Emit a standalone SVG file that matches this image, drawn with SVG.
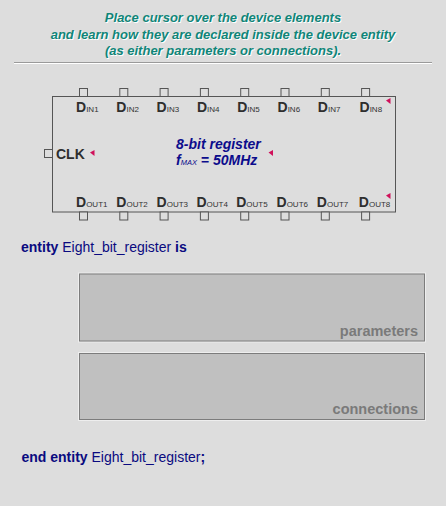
<svg xmlns="http://www.w3.org/2000/svg" width="446" height="506" viewBox="0 0 446 506">
<defs>
<style>
.title{font-family:"Liberation Sans",Arial,sans-serif;font-size:13px;font-weight:bold;font-style:italic;text-anchor:middle}
.tsh{fill:#ffffff}
.tfg{fill:#108578}
.pin{fill:#dddddd;stroke:#555555;stroke-width:1}
.lbl{font-family:"Liberation Sans",Arial,sans-serif;font-weight:bold;fill:#2e2e2e}
.big{font-size:14px}
.sub{font-size:8px;font-weight:normal;fill:#333333}
.chipname{font-family:"Liberation Sans",Arial,sans-serif;font-weight:bold;font-style:italic;fill:#0c0c8c;font-size:14px}
.code{font-family:"Liberation Sans",Arial,sans-serif;font-size:14px;fill:#0a0a80}
.kw{font-weight:bold}
.box{fill:#c0c0c0;stroke:#7c7c7c;stroke-width:1}
.boxedge{fill:none;stroke:#eeeeee;stroke-width:1}
.boxlbl{font-family:"Liberation Sans",Arial,sans-serif;font-size:14.5px;font-weight:bold;fill:#7a7a7a;text-anchor:end}
.mark{fill:#d0105a}
</style>
<polygon id="mk" class="mark" points="0,2.5 4.5,0 4.5,6"/>
</defs>
<rect x="0" y="0" width="446" height="506" fill="#dddddd"/>

<g id="header">
<text class="title tsh" x="224" y="23">Place cursor over the device elements</text>
<text class="title tsh" x="224" y="40">and learn how they are declared inside the device entity</text>
<text class="title tsh" x="224" y="56">(as either parameters or connections).</text>
<text class="title tfg" x="223" y="22">Place cursor over the device elements</text>
<text class="title tfg" x="223" y="39">and learn how they are declared inside the device entity</text>
<text class="title tfg" x="223" y="55">(as either parameters or connections).</text>
<line x1="14" y1="62.5" x2="432" y2="62.5" stroke="#9a9a9a" stroke-width="1"/>
<line x1="14" y1="63.5" x2="432" y2="63.5" stroke="#ffffff" stroke-width="1"/>
</g>

<g id="chip">
<rect x="52.5" y="96.5" width="343" height="115.5" fill="#dddddd" stroke="#555555" stroke-width="1"/>
<text class="chipname" x="176" y="149">8-bit register</text>
<text class="chipname" x="176" y="165">f<tspan font-size="7.5px" font-weight="normal">MAX</tspan> = 50MHz</text>
<use href="#mk" x="268.5" y="150"/>
</g>

<g id="pins">
<rect class="pin" x="44.5" y="149.5" width="8" height="8"/>
<rect class="pin" x="79.5" y="88.5" width="8" height="8"/>
<rect class="pin" x="119.8" y="88.5" width="8" height="8"/>
<rect class="pin" x="160.1" y="88.5" width="8" height="8"/>
<rect class="pin" x="200.4" y="88.5" width="8" height="8"/>
<rect class="pin" x="240.7" y="88.5" width="8" height="8"/>
<rect class="pin" x="281" y="88.5" width="8" height="8"/>
<rect class="pin" x="321.3" y="88.5" width="8" height="8"/>
<rect class="pin" x="361.6" y="88.5" width="8" height="8"/>
<rect class="pin" x="79.5" y="212" width="8" height="8"/>
<rect class="pin" x="119.8" y="212" width="8" height="8"/>
<rect class="pin" x="160.1" y="212" width="8" height="8"/>
<rect class="pin" x="200.4" y="212" width="8" height="8"/>
<rect class="pin" x="240.7" y="212" width="8" height="8"/>
<rect class="pin" x="281" y="212" width="8" height="8"/>
<rect class="pin" x="321.3" y="212" width="8" height="8"/>
<rect class="pin" x="361.6" y="212" width="8" height="8"/>
</g>

<g id="clk">
<text class="lbl big" x="56" y="159">CLK</text>
<use href="#mk" x="90" y="150"/>
</g>

<g id="din">
<text class="lbl" x="76" y="112"><tspan class="big">D</tspan><tspan class="sub">IN1</tspan></text>
<text class="lbl" x="116.3" y="112"><tspan class="big">D</tspan><tspan class="sub">IN2</tspan></text>
<text class="lbl" x="156.6" y="112"><tspan class="big">D</tspan><tspan class="sub">IN3</tspan></text>
<text class="lbl" x="196.9" y="112"><tspan class="big">D</tspan><tspan class="sub">IN4</tspan></text>
<text class="lbl" x="237.2" y="112"><tspan class="big">D</tspan><tspan class="sub">IN5</tspan></text>
<text class="lbl" x="277.5" y="112"><tspan class="big">D</tspan><tspan class="sub">IN6</tspan></text>
<text class="lbl" x="317.8" y="112"><tspan class="big">D</tspan><tspan class="sub">IN7</tspan></text>
<text class="lbl" x="359.5" y="112"><tspan class="big">D</tspan><tspan class="sub">IN8</tspan></text>
<use href="#mk" x="386" y="98"/>
</g>

<g id="dout">
<text class="lbl" x="76" y="207"><tspan class="big">D</tspan><tspan class="sub">OUT1</tspan></text>
<text class="lbl" x="116.3" y="207"><tspan class="big">D</tspan><tspan class="sub">OUT2</tspan></text>
<text class="lbl" x="156.6" y="207"><tspan class="big">D</tspan><tspan class="sub">OUT3</tspan></text>
<text class="lbl" x="196.4" y="207"><tspan class="big">D</tspan><tspan class="sub">OUT4</tspan></text>
<text class="lbl" x="236.2" y="207"><tspan class="big">D</tspan><tspan class="sub">OUT5</tspan></text>
<text class="lbl" x="276.5" y="207"><tspan class="big">D</tspan><tspan class="sub">OUT6</tspan></text>
<text class="lbl" x="316.8" y="207"><tspan class="big">D</tspan><tspan class="sub">OUT7</tspan></text>
<text class="lbl" x="358.8" y="207"><tspan class="big">D</tspan><tspan class="sub">OUT8</tspan></text>
<use href="#mk" x="386" y="193"/>
</g>

<g id="entity-start">
<text class="code" x="21" y="251.5"><tspan class="kw">entity</tspan> Eight_bit_register <tspan class="kw">is</tspan></text>
</g>

<g id="parameters">
<rect class="boxedge" x="78.5" y="273" width="347" height="69"/>
<rect class="box" x="79.5" y="274" width="345" height="67"/>
<text class="boxlbl" x="418" y="336">parameters</text>
</g>

<g id="connections">
<rect class="boxedge" x="78.5" y="352.5" width="347" height="68"/>
<rect class="box" x="79.5" y="353.5" width="345" height="66"/>
<text class="boxlbl" x="418" y="414">connections</text>
</g>

<g id="entity-end">
<text class="code" x="21.5" y="462"><tspan class="kw">end entity</tspan> Eight_bit_register<tspan class="kw">;</tspan></text>
</g>

<g id="connectors"/>
</svg>
